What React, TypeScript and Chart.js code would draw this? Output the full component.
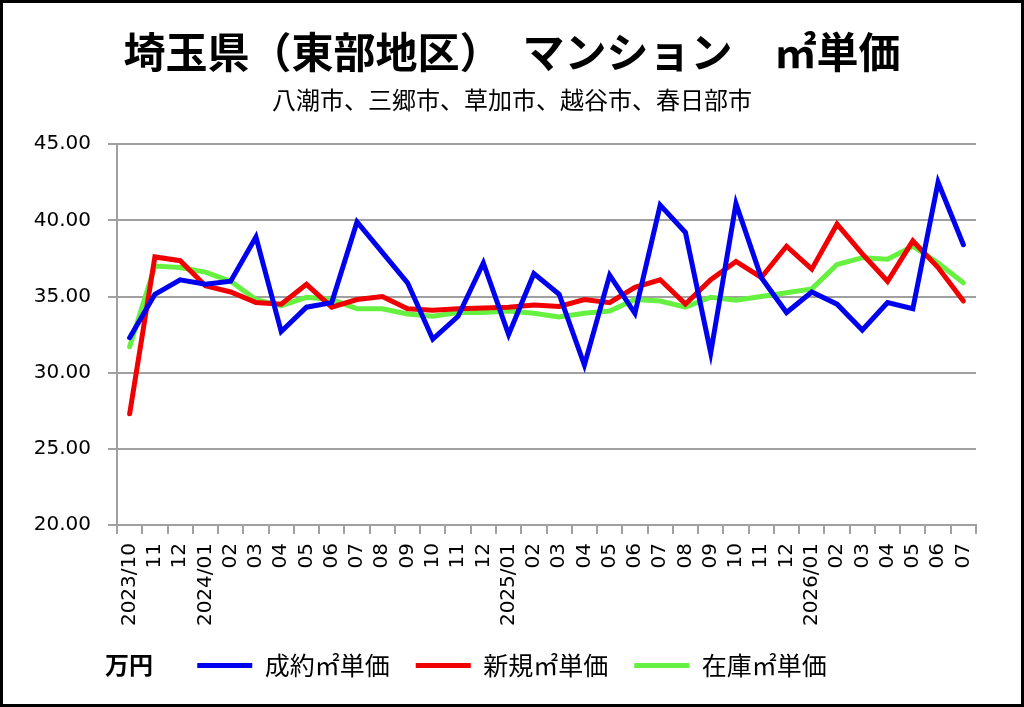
import React, { useRef, useEffect } from 'react';
import { Chart, registerables } from 'chart.js';

Chart.register(...registerables);

const months: string[] = [
  '2023/10', '11', '12',
  '2024/01', '02', '03', '04', '05', '06', '07', '08', '09', '10', '11', '12',
  '2025/01', '02', '03', '04', '05', '06', '07', '08', '09', '10', '11', '12',
  '2026/01', '02', '03', '04', '05', '06', '07',
];

const closedPrice: number[] = [
  32.3, 35.15, 36.1, 35.8, 36.0, 38.9, 32.7, 34.3, 34.6, 39.9, 37.9, 35.9,
  32.2, 33.7, 37.2, 32.5, 36.5, 35.15, 30.5, 36.4, 33.9, 41.0, 39.2, 31.3,
  41.1, 36.25, 33.95, 35.3, 34.5, 32.8, 34.6, 34.2, 42.5, 38.4,
];

const newPrice: number[] = [
  27.3, 37.6, 37.35, 35.7, 35.3, 34.6, 34.5, 35.8, 34.3, 34.8, 35.0, 34.2,
  34.1, 34.2, 34.25, 34.3, 34.45, 34.35, 34.8, 34.6, 35.6, 36.1, 34.5, 36.1,
  37.3, 36.25, 38.3, 36.8, 39.75, 37.8, 36.0, 38.65, 36.9, 34.7,
];

const stockPrice: number[] = [
  31.7, 37.0, 36.9, 36.6, 36.0, 34.8, 34.4, 34.95, 34.8, 34.2, 34.2, 33.85,
  33.7, 33.95, 33.95, 34.05, 33.9, 33.65, 33.9, 34.05, 34.8, 34.7, 34.3, 34.95,
  34.75, 35.0, 35.25, 35.5, 37.1, 37.55, 37.45, 38.3, 37.2, 35.9,
];

const seriesNames: string[] = ['成約㎡単価', '新規㎡単価', '在庫㎡単価'];
const seriesColors: string[] = ['#0000F0', '#F00000', '#66F040'];

const jpFont = "'Noto Sans CJK JP', 'Noto Sans', sans-serif";
const numFont = "'DejaVu Sans', sans-serif";
const gridColor = '#a0a0a0';

const App: React.FC = () => {
  const canvas = useRef<HTMLCanvasElement>(null);

  useEffect(() => {
    if (!canvas.current) return;
    const ctx = canvas.current.getContext('2d');
    if (!ctx) return;

    const values = [closedPrice, newPrice, stockPrice];

    const chart = new Chart(ctx, {
      type: 'line',
      data: {
        labels: months,
        datasets: values.map((v, i) => ({
          label: seriesNames[i],
          data: v,
          borderColor: seriesColors[i],
          backgroundColor: seriesColors[i],
          borderWidth: 5,
          borderCapStyle: 'round' as const,
          borderJoinStyle: 'miter' as const,
          pointRadius: 0,
          tension: 0,
          fill: false,
          yAxisID: 'y',
        })),
      },
      options: {
        animation: false,
        responsive: false,
        maintainAspectRatio: false,
        layout: { padding: { left: 0, right: 0, top: 0, bottom: 16 } },
        plugins: {
          title: {
            display: true,
            text: '埼玉県（東部地区）　マンション　㎡単価',
            color: '#000',
            font: { family: jpFont, size: 42, weight: 'bold' },
            padding: { top: 24, bottom: 8 },
          },
          subtitle: {
            display: true,
            text: '八潮市、三郷市、草加市、越谷市、春日部市',
            color: '#000',
            font: { family: jpFont, size: 24 },
            padding: { top: 0, bottom: 30 },
          },
          legend: {
            display: true,
            position: 'bottom',
            labels: {
              usePointStyle: true,
              pointStyle: 'line',
              pointStyleWidth: 55,
              color: '#000',
              font: { family: jpFont, size: 25 },
              padding: 26,
            },
          },
          tooltip: { enabled: false },
        },
        scales: {
          x: {
            offset: true,
            grid: {
              offset: true,
              drawOnChartArea: false,
              drawTicks: true,
              tickLength: 9,
              color: gridColor,
              lineWidth: 2,
            },
            border: { display: true, color: gridColor, width: 2 },
            ticks: {
              autoSkip: false,
              minRotation: 90,
              maxRotation: 90,
              padding: 9,
              color: '#000',
              font: { family: numFont, size: 20 },
            },
            afterFit: (scale: any) => {
              scale.height = 102;
            },
          },
          y: {
            min: 20,
            max: 45,
            grid: {
              color: gridColor,
              lineWidth: 2,
              tickLength: 9,
            },
            border: { display: true, color: gridColor, width: 2 },
            ticks: {
              stepSize: 5,
              padding: 17,
              color: '#000',
              font: { family: numFont, size: 20 },
              callback: (v: any) => Number(v).toFixed(2),
            },
            afterFit: (scale: any) => {
              scale.width = 114;
            },
          },
          // empty right-hand axis, only reserves the white margin on the right
          spacer: {
            type: 'linear',
            position: 'right',
            min: 20,
            max: 45,
            grid: { display: false },
            border: { display: false },
            ticks: { display: false },
            afterFit: (scale: any) => {
              scale.width = 45;
            },
          },
        },
      },
    });

    return () => chart.destroy();
  }, []);

  return (
    <div
      style={{
        position: 'absolute',
        left: 0,
        top: 0,
        width: 1024,
        height: 707,
        boxSizing: 'border-box',
        border: '3px solid #000',
        background: '#fff',
      }}
    >
      <canvas ref={canvas} width={1018} height={701} style={{ display: 'block' }}></canvas>
      <div
        style={{
          position: 'absolute',
          left: 102,
          top: 647,
          fontFamily: jpFont,
          fontWeight: 'bold',
          fontSize: 24,
          lineHeight: '28px',
          color: '#000',
        }}
      >
        万円
      </div>
    </div>
  );
};

export default App;
